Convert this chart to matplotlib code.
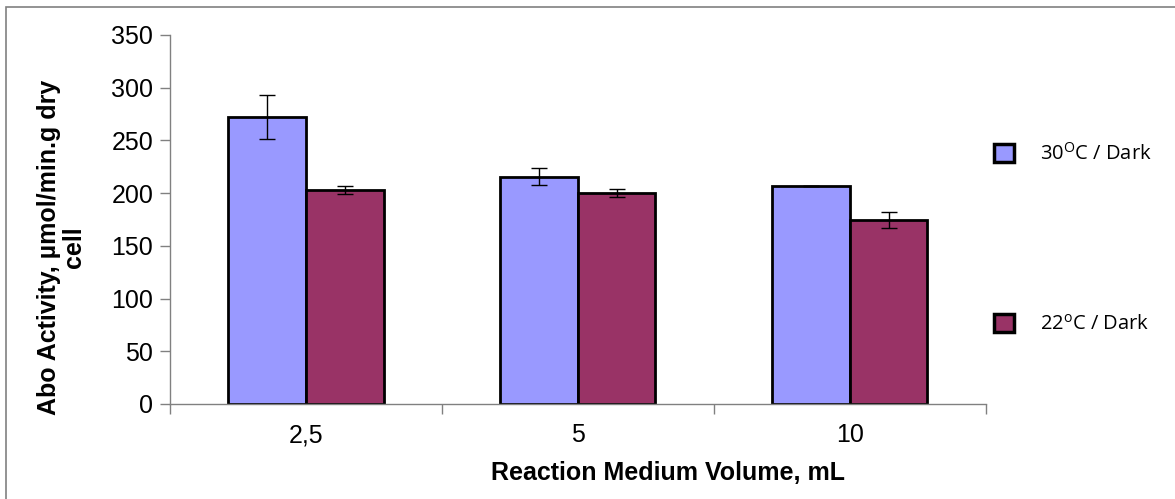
import numpy as np
import matplotlib.pyplot as plt
from matplotlib.patches import Rectangle

categories = ['2,5', '5', '10']
dark_30 = [272, 215.5, 207]
dark_30_err = [21, 8, 0]
dark_22 = [203, 200, 174.5]
dark_22_err = [3.5, 4, 7.5]
labels = ['30$^{\\mathregular{O}}$C / Dark', '22$^{\\mathregular{o}}$C / Dark']

plt.rcParams['font.family'] = ['Liberation Sans', 'DejaVu Sans']

fig = plt.figure(figsize=(11.75, 4.99), dpi=100)
ax = fig.add_axes([0.1447, 0.1904, 0.8391 - 0.1447, 0.9299 - 0.1904])

x = np.arange(len(categories))
w = 0.285
ebar = dict(ecolor='black', elinewidth=1, capsize=6, capthick=1)
ax.bar(x - w / 2, dark_30, w, color='#9999FF', edgecolor='black', linewidth=2,
       yerr=dark_30_err, error_kw=ebar, label=labels[0])
ax.bar(x + w / 2, dark_22, w, color='#993366', edgecolor='black', linewidth=2,
       yerr=dark_22_err, error_kw=ebar, label=labels[1])

ax.set_xlim(-0.5, len(categories) - 0.5)
ax.set_ylim(0, 350)
ax.set_yticks(np.arange(0, 351, 50))
ax.set_xticks(x)
ax.set_xticklabels(categories)
ax.set_xticks(np.arange(-0.5, len(categories)), minor=True)
ax.tick_params(axis='x', which='major', length=0, pad=14, labelsize=18)
ax.tick_params(axis='x', which='minor', length=7, color='#808080', width=1)
ax.tick_params(axis='y', length=7, color='#808080', width=1, labelsize=18, pad=5)
for s in ['top', 'right']:
    ax.spines[s].set_visible(False)
for s in ['left', 'bottom']:
    ax.spines[s].set_color('#808080')
    ax.spines[s].set_linewidth(1)

ax.set_ylabel('Abo Activity, µmol/min.g dry\ncell', fontsize=18, fontweight='bold',
              linespacing=1.05)
ax.yaxis.set_label_coords(-0.103, 0.425)
fig.text(668 / 1175, 1 - 473 / 499, 'Reaction Medium Volume, mL', fontsize=18,
         fontweight='bold', ha='center', va='center')

handles = [Rectangle((0, 0), 1, 1, facecolor='#9999FF', edgecolor='black', linewidth=2.5),
           Rectangle((0, 0), 1, 1, facecolor='#993366', edgecolor='black', linewidth=2.5)]
fig.legend(handles, labels, loc='upper left', bbox_to_anchor=(976 / 1175, 1 - 125 / 499),
           frameon=False, prop={'family': 'Open Sans', 'size': 14.5},
           handlelength=1.0, handleheight=1.0, handletextpad=1.3, labelspacing=7.4)

fig.patches.append(Rectangle((6 / 1175, -0.1), 1.2, 1 - 7 / 499 + 0.1, transform=fig.transFigure,
                             fill=False, edgecolor='#808080', linewidth=1.2, figure=fig))

fig.savefig('out.png', dpi=100)
